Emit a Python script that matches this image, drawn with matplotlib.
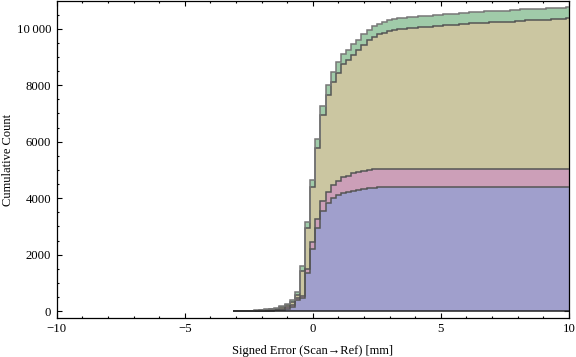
import numpy as np
import matplotlib
matplotlib.use("Agg")
import matplotlib.pyplot as plt
from matplotlib.ticker import MultipleLocator, FuncFormatter

# ---------------- data ----------------
bin_start = -3.1
bin_width = 0.2
# cumulative counts per series (one value per bin, left edges -3.1, -2.9, ..., 9.9)
blue = [0, 1, 2, 3, 5, 8, 12, 20, 32, 49, 85, 160, 400, 450, 1357, 2205,
        2958, 3558, 3816, 4018, 4113, 4184, 4230, 4265, 4300, 4325, 4353, 4371, 4382, 4382,
        4382, 4382, 4382, 4382, 4382, 4382, 4382, 4382, 4382, 4382, 4382, 4382, 4382, 4382,
        4382, 4382, 4382, 4382, 4382, 4382, 4382, 4382, 4382, 4382, 4382, 4382, 4382, 4382,
        4382, 4382, 4382, 4382, 4382, 4382, 4382, 4382]
pink = [1, 1, 2, 3, 5, 7, 10, 15, 23, 36, 56, 75, 80, 90, 141, 233,
        307, 329, 403, 448, 495, 551, 565, 611, 612, 636, 643, 650, 650, 650,
        650, 650, 650, 650, 650, 650, 650, 650, 650, 650, 650, 650, 650, 650,
        650, 650, 650, 650, 650, 650, 650, 650, 650, 650, 650, 650, 650, 650,
        650, 650, 650, 650, 650, 650, 650, 650]
khaki = [2, 3, 4, 6, 8, 13, 20, 30, 35, 56, 60, 83, 100, 898, 1435, 1968,
         2509, 3053, 3428, 3651, 3837, 4007, 4099, 4195, 4325, 4463, 4594, 4682, 4770, 4827,
         4887, 4922, 4947, 4975, 4982, 4993, 5028, 5028, 5046, 5063, 5081, 5088, 5099, 5116,
         5134, 5145, 5159, 5169, 5180, 5187, 5194, 5205, 5215, 5215, 5222, 5240, 5258, 5265,
         5265, 5265, 5275, 5293, 5300, 5300, 5318, 5335]
green = [2, 3, 4, 6, 10, 12, 18, 25, 30, 36, 60, 85, 90, 159, 212, 237,
         318, 340, 350, 358, 362, 366, 370, 373, 376, 378, 380, 381, 382, 383,
         384, 385, 386, 386, 387, 387, 388, 388, 389, 389, 389, 390, 390, 390,
         391, 391, 391, 392, 392, 392, 393, 393, 393, 393, 394, 394, 394, 394,
         395, 395, 395, 395, 396, 396, 396, 396]

series = [blue, pink, khaki, green]
fill_colors = ["#a09fcc", "#cc9fb8", "#cbc6a1", "#a0cba9"]
edge_colors = ["#555555", "#555555", "#555555", "#777777"]

x_ticks = [-10, -5, 0, 5, 10]
y_ticks = [0, 2000, 4000, 6000, 8000, 10000]
x_label = "Signed Error (Scan\u2192Ref) [mm]"
y_label = "Cumulative Count"

# ---------------- plot ----------------
plt.rcParams["font.family"] = ["Liberation Serif", "DejaVu Serif"]
plt.rcParams["axes.unicode_minus"] = True

fig = plt.figure(figsize=(5.76, 3.57), dpi=100)
ax = fig.add_axes([0.0985, 0.108, 0.889, 0.889])

n = len(blue)
edges = bin_start + bin_width * np.arange(n + 1)
lower = np.zeros(n)
tops = []
for vals, fc in zip(series, fill_colors):
    upper = lower + np.asarray(vals, dtype=float)
    ax.stairs(upper, edges, baseline=lower, fill=True, color=fc, lw=0, zorder=2)
    tops.append(upper)
    lower = upper

for upper, ec in zip(tops, edge_colors):
    ax.stairs(upper, edges, baseline=None, color=ec, lw=1.1, zorder=3)
ax.hlines(0, edges[0], edges[-1], color="#222222", lw=1.1, zorder=3)

ax.set_xlim(-10, 10)
ax.set_ylim(-258, 10979)

ax.set_xticks(x_ticks)
ax.set_yticks(y_ticks)
ax.xaxis.set_minor_locator(MultipleLocator(1))
ax.yaxis.set_minor_locator(MultipleLocator(500))

def yfmt(v, pos):
    v = int(round(v))
    if v >= 10000:
        return f"{v // 1000}\u2009{v % 1000:03d}"
    return str(v)

ax.yaxis.set_major_formatter(FuncFormatter(yfmt))

ax.tick_params(which="both", direction="in", top=True, right=True,
               color="black", width=0.8, labelsize=9.2)
ax.tick_params(which="major", length=3.4)
ax.tick_params(which="minor", length=1.7)
ax.tick_params(axis="y", pad=4)
ax.tick_params(axis="x", pad=3)

for sp in ax.spines.values():
    sp.set_linewidth(0.9)
    sp.set_color("black")

ax.set_xlabel(x_label, fontsize=9)
ax.set_ylabel(y_label, fontsize=9)
ax.xaxis.set_label_coords(0.5, -0.085)
ax.yaxis.set_label_coords(-0.084, 0.5)

fig.savefig("out.png", dpi=100)
